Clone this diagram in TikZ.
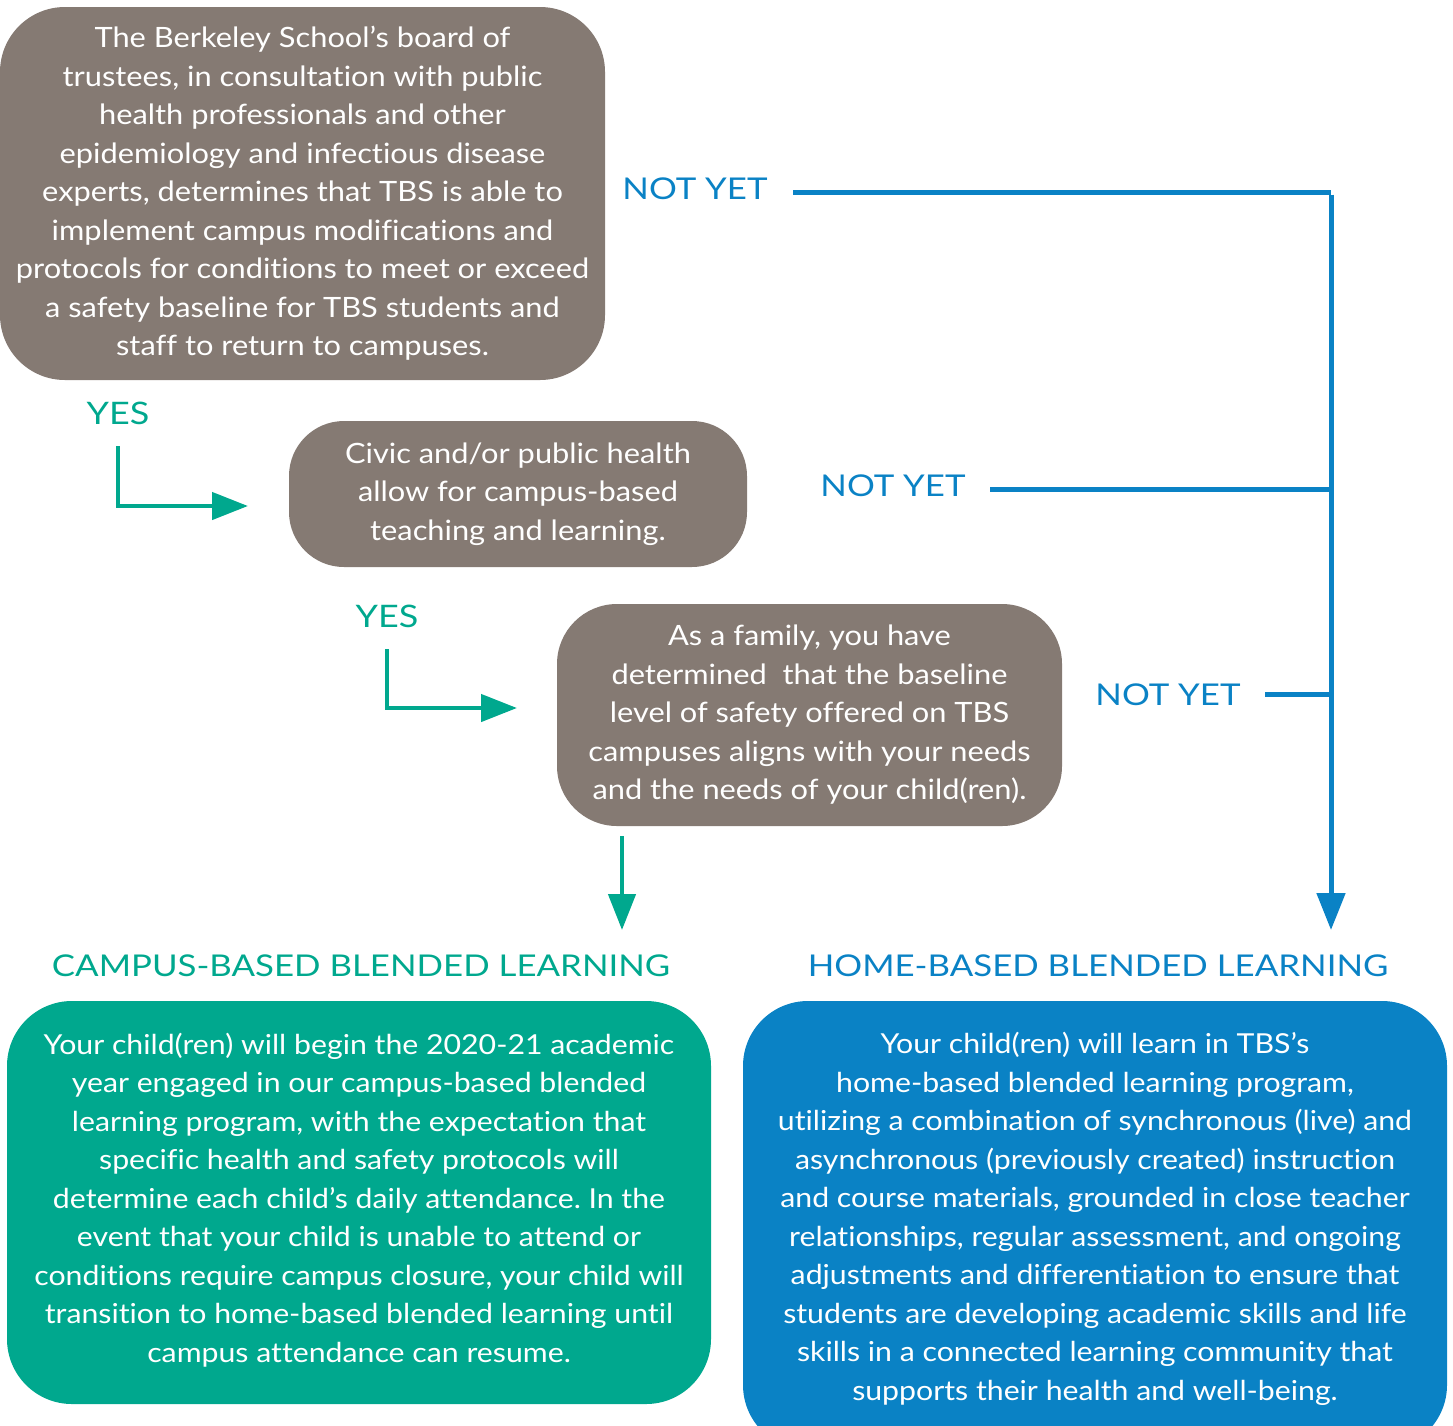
\documentclass[tikz,border=0pt]{standalone}
\usepackage{fontspec}
\setmainfont{Lato}[FakeStretch=1.1,Ligatures=NoCommon]
\newfontfamily\labfont{Lato}[FakeStretch=1.16,Ligatures=NoCommon]
\usetikzlibrary{arrows.meta}
\frenchspacing
\definecolor{tbsgray}{HTML}{857A73}
\definecolor{tbsgreen}{HTML}{00A88E}
\definecolor{tbsblue}{HTML}{0A82C5}
\tikzset{
  graybox/.style={fill=tbsgray, text=white, align=center, inner sep=0pt,
    font=\frenchspacing\fontsize{28}{38.5}\selectfont},
  endbox/.style={text=white, align=center, inner sep=0pt,
    font=\frenchspacing\fontsize{27.5}{38.5}\selectfont},
  yeslab/.style={text=tbsgreen, font=\labfont\fontsize{31}{36}\selectfont, inner sep=0pt},
  nylab/.style={text=tbsblue, font=\labfont\fontsize{30}{36}\selectfont, inner sep=0pt},
  titlelab/.style={font=\labfont\fontsize{30}{36}\selectfont, inner sep=0pt},
  garrow/.style={draw=tbsgreen, line width=4.5pt, -{Triangle[length=36pt,width=27pt]}},
  bline/.style={draw=tbsblue, line width=5pt},
  barrow/.style={draw=tbsblue, line width=5pt, -{Triangle[length=37pt,width=28pt]}},
}
\begin{document}
\begin{tikzpicture}[x=1pt,y=-1pt]
\useasboundingbox (0,0) rectangle (1453,1425);
% decision boxes
\node[graybox, rounded corners=65pt, minimum width=605pt, minimum height=373pt] (b1) at (302.5,193.5)
 {The Berkeley School’s board of\\trustees, in consultation with public\\health professionals and other\\epidemiology and infectious disease\\experts, determines that TBS is able to\\implement campus modifications and\\protocols for conditions to meet or exceed\\a safety baseline for TBS students and\\staff to return to campuses.};
\node[graybox, rounded corners=55pt, minimum width=458pt, minimum height=146pt] (b2) at (518,494)
 {Civic and/or public health\\allow for campus-based\\teaching and learning.};
\node[graybox, rounded corners=60pt, minimum width=505pt, minimum height=222pt] (b3) at (809.5,715)
 {As a family, you have\\determined\ \ that the baseline\\level of safety offered on TBS\\campuses aligns with your needs\\and the needs of your child(ren).};
% outcome boxes
\begin{scope}
\clip (0,0) rectangle (1453,1425);
\fill[tbsgreen, rounded corners=65pt] (7,1001) rectangle (711,1404);
\fill[tbsblue, rounded corners=65pt] (743,1001) rectangle (1447,1450);
\end{scope}
\node[endbox] (g) at (359,1200)
 {Your child(ren) will begin the 2020-21 academic\\year engaged in our campus-based blended\\learning program, with the expectation that\\specific health and safety protocols will\\determine each child’s daily attendance. In the\\event that your child is unable to attend or\\conditions require campus closure, your child will\\transition to home-based blended learning until\\campus attendance can resume.};
\node[endbox] (h) at (1095,1219)
 {Your child(ren) will learn in TBS’s\\home-based blended learning program,\\utilizing a combination of synchronous (live) and\\asynchronous (previously created) instruction\\and course materials, grounded in close teacher\\relationships, regular assessment, and ongoing\\adjustments and differentiation to ensure that\\students are developing academic skills and life\\skills in a connected learning community that\\supports their health and well-being.};
% titles
\node[titlelab, text=tbsgreen] (ct) at (361,966) {CAMPUS-BASED BLENDED LEARNING};
\node[titlelab, text=tbsblue] (ht) at (1098,966) {HOME-BASED BLENDED LEARNING};
% labels
\node[yeslab] (y1) at (118,413) {YES};
\node[yeslab] (y2) at (387,616) {YES};
\node[nylab] (n1) at (695,189) {NOT YET};
\node[nylab] (n2) at (893,486) {NOT YET};
\node[nylab] (n3) at (1168,695) {NOT YET};
% coordinates
\coordinate (y1a) at (118,446);
\coordinate (y1b) at (248,506);
\coordinate (y2a) at (387,649);
\coordinate (y2b) at (517,708);
\coordinate (da) at (622,836);
\coordinate (db) at (622,930);
\coordinate (n1a) at (793,192);
\coordinate (n2a) at (990,489);
\coordinate (n3a) at (1265,694);
\coordinate (j1) at (1331,192);
\coordinate (j2) at (1331,489);
\coordinate (j3) at (1331,694);
\coordinate (bt) at (1331,930);
% green arrows
\draw[garrow] (y1a) |- (y1b);
\draw[garrow] (y2a) |- (y2b);
\draw[garrow] (da) -- (db);
% blue lines
\draw[bline] (n1a) -- (j1);
\draw[bline] (n2a) -- (j2);
\draw[bline] (n3a) -- (j3);
\draw[barrow] ([yshift=-2.5pt]j1) -- (bt);
\end{tikzpicture}
\end{document}
